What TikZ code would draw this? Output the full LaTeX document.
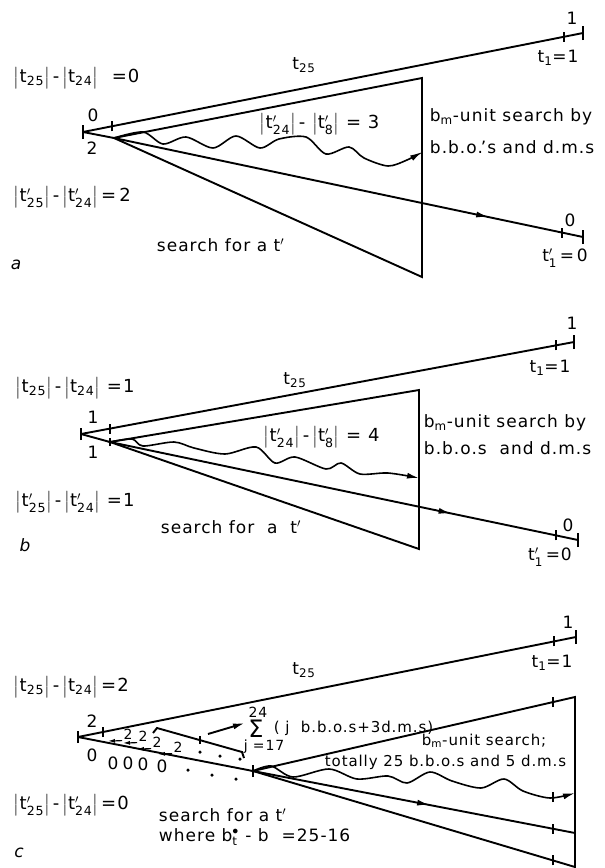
\documentclass[tikz,border=0pt]{standalone}
\usepackage{amsmath}
\usepackage{fontspec}
\setmainfont{DejaVu Sans}[LetterSpace=6]
\usetikzlibrary{arrows.meta, calc, decorations.markings}

\newcommand{\tsub}[1]{t$_{\text{#1}}$}
\newcommand{\tpr}[1]{t$'_{\text{#1}}$}
\newcommand{\bars}[1]{$\bigl|$#1$\bigr|$}
\newcommand{\tickat}[2][5]{\draw ($(#2)+(0,#1)$) -- ($(#2)-(0,#1)$);}

\begin{document}
\begin{tikzpicture}[
    x=1pt, y=-1pt, line width=1.9pt,
    lbl/.style={font=\fontsize{17}{19}\selectfont, inner sep=1pt},
    txt/.style={lbl, anchor=west},
    big/.style={txt, font=\fontsize{18}{20}\selectfont},
    small/.style={font=\fontsize{14}{16}\selectfont, inner sep=0.5pt},
    tag/.style={font=\fontsize{17}{19}\selectfont\itshape, inner sep=1pt},
    wave/.style={line width=1.6pt, -{Latex[length=12pt,width=6pt]}},
    tinyarrow/.style={line width=1.1pt, -{Latex[length=7pt,width=4pt]}},
    dot/.style={circle, fill, inner sep=0pt, minimum size=3.5pt},
    midarrow/.style={postaction={decorate}, decoration={markings,
        mark=at position #1 with {\arrow{Latex[length=13pt,width=6pt]}}}}
  ]
  \useasboundingbox (0,0) rectangle (605,868);

  % ---- panel a ----
  \coordinate (aL)  at (83,132);
  \coordinate (aE1) at (583,33);
  \coordinate (aP)  at (114,138);
  \coordinate (aT)  at (422,78);
  \coordinate (aB)  at (422,277);
  \coordinate (aE2) at (583,237);
  \coordinate (aW)  at (422,152);

  \draw (aL) -- (aE1);
  \draw (aL) -- (aP);
  \draw (aP) -- (aT) -- (aB) -- cycle;
  \draw[midarrow=0.8] (aP) -- (aE2);
  \draw[wave] plot[smooth] coordinates {(aP) (143,132) (163,144) (186,137)
    (213,148) (236,136) (260,148) (279,139) (306,137) (326,154) (349,147)
    (364,158) (388,166) (407,160) (aW)};
  \tickat[7]{aL} \tickat{112,126.3} \tickat[7]{aE1} \tickat{564,36.8}
  \tickat[7]{aE2} \tickat{562,232.6}

  \node[big] (aDt) at (12,78) {\bars{\tsub{25}}\,-\,\bars{\tsub{24}}\ \ =0};
  \node[lbl] (aT25) at (304,65) {\tsub{25}};
  \node[lbl] (aZero) at (93,115) {0};
  \node[lbl] (aTwo) at (92,148) {2};
  \node[lbl] (aOne) at (572,18) {1};
  \node[lbl] (aTa) at (558,58) {\tsub{1}=1};
  \node[big] (aDq) at (258,124) {\bars{\tpr{24}}\,-\ \bars{\tpr{8}}\ = 3};
  \node[txt] (aSa) at (428,117) {b$_{\text{m}}$-unit search by};
  \node[txt] (aSb) at (428,147) {b.b.o.\kern-2pt's and d.m.s};
  \node[big] (aDp) at (12,197) {\bars{\tpr{25}}\,-\,\bars{\tpr{24}}\,=\,2};
  \node[txt] (aSr) at (155,245) {search for a t$'$};
  \node[tag] (aTag) at (16,265) {a};
  \node[lbl] (aZb) at (570,220) {0};
  \node[lbl] (aTb) at (565,258) {\tpr{1}\,=\,0};

  % ---- panel b ----
  \coordinate (bL)  at (81,434);
  \coordinate (bE1) at (574,342);
  \coordinate (bP)  at (110,442);
  \coordinate (bT)  at (419,390);
  \coordinate (bB)  at (419,549);
  \coordinate (bE2) at (578,540);
  \coordinate (bW)  at (419,478);

  \draw (bL) -- (bE1);
  \draw (bL) -- (bP);
  \draw (bP) -- (bT) -- (bB) -- cycle;
  \draw[midarrow=0.73] (bP) -- (bE2);
  \draw[wave] plot[smooth] coordinates {(bP) (132,439) (143,446) (174,442)
    (194,448) (225,454) (256,447) (275,463) (295,457) (326,469) (341,463)
    (360,474) (388,473) (bW)};
  \tickat[6]{bL} \tickat{110,428.6} \tickat[4]{bP} \tickat[7]{bE1}
  \tickat{556,345.4} \tickat[7]{bE2} \tickat{556,535.4}

  \node[big] (bDt) at (14,388) {\bars{\tsub{25}}\,-\,\bars{\tsub{24}}\ =1};
  \node[lbl] (bT25) at (295,380) {\tsub{25}};
  \node[lbl] (bOa) at (93,417) {1};
  \node[lbl] (bOb) at (93,452) {1};
  \node[lbl] (bOne) at (572,323) {1};
  \node[lbl] (bTa) at (550,368) {\tsub{1}=1};
  \node[big] (bDq) at (262,437) {\bars{\tpr{24}}\,-\,\bars{\tpr{8}}\ = 4};
  \node[txt] (bSa) at (422,423) {b$_{\text{m}}$-unit search by};
  \node[txt] (bSb) at (422,448) {b.b.o.s\ \ and d.m.s};
  \node[big] (bDp) at (14,502) {\bars{\tpr{25}}\,-\,\bars{\tpr{24}}\ =1};
  \node[txt] (bSr) at (159,527) {search for\ \ a\ \ t$'$};
  \node[tag] (bTag) at (25,545) {b};
  \node[lbl] (bZb) at (568,525) {0};
  \node[lbl] (bTb) at (550,557) {\tpr{1}\,=0};

  % ---- panel c ----
  \coordinate (cL)  at (78,737);
  \coordinate (cE1) at (576,637);
  \coordinate (cQ)  at (253,771);
  \coordinate (cT)  at (575,697);
  \coordinate (cB)  at (575,867);
  \coordinate (cE2) at (575,833);
  \coordinate (cW)  at (575,793);

  \draw (cL) -- (cE1);
  \draw (cL) -- (cQ);
  \draw (cQ) -- (cT) -- (cB) -- cycle;
  \draw[midarrow=0.55] (cQ) -- (cE2);
  \draw[wave] plot[smooth] coordinates {(cQ) (271,766) (293,777) (329,769)
    (357,779) (388,776) (407,783) (430,772) (452,781) (481,788) (504,779)
    (523,791) (550,798) (cW)};
  \tickat[6]{cL} \tickat{103,732} \tickat[7]{cE1} \tickat{554,641.4}
  \tickat[6]{cQ} \tickat{553,702} \tickat{553,797} \tickat{553,828.8}
  \tickat{553,860.4}

  % partial sums along the lower edge
  \coordinate (cHa) at (153,733);
  \coordinate (cBs) at (157,728);
  \coordinate (cBe) at (242,752);
  \coordinate (cHb) at (244,758);
  \draw (cHa) -- (cBs) -- (cBe) -- (cHb);
  \tickat[4]{200,740}
  \coordinate (cSa) at (208,734);
  \coordinate (cSb) at (245,723);
  \draw[-{Latex[length=12pt,width=6pt]}] (cSa) -- (cSb);

  \foreach \i/\x/\y in {1/128/734, 2/143/736, 3/157/742, 4/178/747} {
    \node[small] (cCh\i) at (\x,\y) {2};
    \coordinate (cCe\i) at (\x-20,\y+7);
    \draw[tinyarrow] (cCh\i.south west) -- (cCe\i);
  }
  \foreach \i/\x/\y in {1/200/752, 2/220/756, 3/240/759, 4/188/770, 5/212/775, 6/236/779}
    \node[dot] (cDot\i) at (\x,\y) {};

  \node[big] (cDt) at (12,687) {\bars{\tsub{25}}\,-\,\bars{\tsub{24}}\,=2};
  \node[lbl] (cT25) at (304,670) {\tsub{25}};
  \node[lbl] (cOne) at (568,622) {1};
  \node[lbl] (cTa) at (552,663) {\tsub{1}=1};
  \node[lbl] (cTwo) at (92,721) {2};
  \node[lbl] (cZero) at (92,755) {0};
  \foreach \i/\x/\y in {1/113/763, 2/128/763, 3/143/764, 4/162/766}
    \node[lbl] (cZ\i) at (\x,\y) {0};
  \node[small] (cUp) at (258,712) {24};
  \node[lbl, font=\fontsize{24}{26}\selectfont, inner sep=0pt] (cSig) at (256,729) {Σ};
  \node[small] (cLow) at (264,747) {j =17};
  \node[txt, font=\fontsize{15}{17}\selectfont] (cSum) at (272,728) {( j\ \ b.b.o.s+3d.m.s)};
  \node[txt, font=\fontsize{15}{17}\selectfont] (cSa) at (420,741) {b$_{\text{m}}$-unit search;};
  \node[txt, font=\fontsize{15}{17}\selectfont] (cSb) at (323,762) {totally 25 b.b.o.s and 5 d.m.s};
  \node[big] (cDp) at (12,805) {\bars{\tpr{25}}\,-\,\bars{\tpr{24}}\,=0};
  \node[txt] (cSr) at (157,815) {search for a t$'$};
  \node[txt] (cWh) at (157,837) {where b$^{\bullet}_{\text{t}}$ - b\ \ =25-16};
  \node[tag] (cTag) at (19,853) {c};
\end{tikzpicture}
\end{document}
